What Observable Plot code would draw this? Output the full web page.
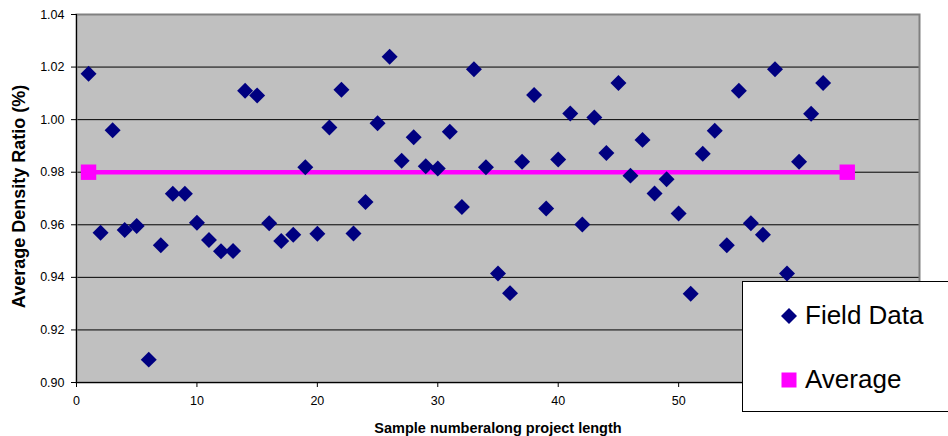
<!DOCTYPE html>
<html>
<head>
<meta charset="utf-8">
<script src="https://cdn.jsdelivr.net/npm/d3@7"></script>
<script src="https://cdn.jsdelivr.net/npm/@observablehq/plot@0.6"></script>
<style>
  html, body { margin: 0; padding: 0; background: #fff; }
  #wrap { position: relative; width: 948px; height: 436px; overflow: hidden; }
  #legend { position: absolute; left: 742px; top: 281px; width: 240px; height: 129px;
            border: 1px solid #000; background: #fff; }
</style>
</head>
<body>
<div id="wrap">
  <div id="chart"></div>
  <div id="legend"></div>
</div>
<script>
// Field data (sample number along project length -> average density ratio)
const fieldValues = [
  1.0175, 0.957, 0.996, 0.958, 0.9595, 0.9087, 0.9522, 0.9718, 0.9718, 0.9608,
  0.9542, 0.9499, 0.9500, 1.011, 1.0092, 0.9606, 0.9538, 0.9562, 0.9819, 0.9566,
  0.997, 1.0114, 0.9567, 0.9687, 0.9986, 1.0239, 0.9844, 0.9933, 0.9823, 0.9814,
  0.9954, 0.9668, 1.0192, 0.9819, 0.9415, 0.934, 0.984, 1.0094, 0.9662, 0.9848,
  1.0023, 0.9601, 1.0008, 0.9873, 1.0139, 0.9787, 0.9923, 0.9719, 0.9773, 0.9643,
  0.9338, 0.987, 0.9958, 0.9522, 1.011, 0.9606, 0.9562, 1.0192, 0.9415, 0.984,
  1.0022, 1.0139
];
const averageX = [1, 64];
const averageY = [0.98, 0.98];
const yTicks = [0.90, 0.92, 0.94, 0.96, 0.98, 1.00, 1.02, 1.04];
const xTicks = [0, 10, 20, 30, 40, 50, 60, 70];
const xTitle = "Sample numberalong project length";
const yTitle = "Average Density Ratio (%)";
const seriesNames = ["Field Data", "Average"];

const field = fieldValues.map((v, i) => ({x: i + 1, y: v}));
const avg = averageX.map((x, i) => ({x, y: averageY[i]}));
const gridLines = yTicks.filter(v => v > 0.90 && v < 1.04);

const font = "'Liberation Sans', Arial, sans-serif";

const chart = Plot.plot({
  width: 948,
  height: 436,
  marginLeft: 76,
  marginRight: 29,
  marginTop: 14,
  marginBottom: 54,
  x: {domain: [0, 70]},
  y: {domain: [0.90, 1.04]},
  style: {fontFamily: font, fontSize: "12.5px", color: "#000", background: "transparent", overflow: "visible"},
  marks: [
    Plot.frame({fill: "#c0c0c0"}),
    Plot.ruleY(gridLines, {stroke: "#000", strokeWidth: 1}),
    Plot.frame({stroke: "#808080", strokeWidth: 2}),
    Plot.ruleX([0], {stroke: "#000", strokeWidth: 1}),
    Plot.ruleY([0.90], {stroke: "#000", strokeWidth: 1}),
    Plot.axisY({ticks: yTicks, tickFormat: d => d.toFixed(2), tickSize: 5, tickPadding: 7, label: null, stroke: "#000"}),
    Plot.axisX({ticks: xTicks, tickSize: 5, tickPadding: 9, label: null, stroke: "#000"}),
    Plot.line(avg, {x: "x", y: "y", stroke: "#ff00ff", strokeWidth: 4.5}),
    Plot.dot(avg, {x: "x", y: "y", symbol: "square", fill: "#ff00ff", r: 8.7}),
    Plot.dot(field, {x: "x", y: "y", symbol: "diamond2", fill: "#000080", r: 7.2}),
    Plot.text([yTitle], {text: d => d, frameAnchor: "left", dx: -57, dy: -2, rotate: -90,
      textAnchor: "middle", lineAnchor: "middle", fontWeight: "bold", fontSize: 18, fill: "#000"}),
    Plot.text([xTitle], {text: d => d, frameAnchor: "bottom", dy: 46,
      textAnchor: "middle", lineAnchor: "middle", fontWeight: "bold", fontSize: 14.5, fill: "#000"})
  ]
});
document.getElementById("chart").appendChild(chart);

// Legend (drawn over the lower-right of the plot, as in the original)
const leg = d3.select("#legend").append("svg")
  .attr("width", 240).attr("height", 129)
  .style("position", "absolute").style("left", "0px").style("top", "0px");
leg.append("path").attr("d", "M46,26 L54,34 L46,42 L38,34 Z").attr("fill", "#000080");
leg.append("rect").attr("x", 38.5).attr("y", 90.5).attr("width", 15).attr("height", 15).attr("fill", "#ff00ff");
leg.selectAll("text.lbl").data(seriesNames).join("text")
  .attr("class", "lbl")
  .attr("x", 62)
  .attr("y", (d, i) => i === 0 ? 42 : 106)
  .attr("font-family", font)
  .attr("font-size", 26)
  .attr("fill", "#000")
  .text(d => d);
</script>
</body>
</html>
